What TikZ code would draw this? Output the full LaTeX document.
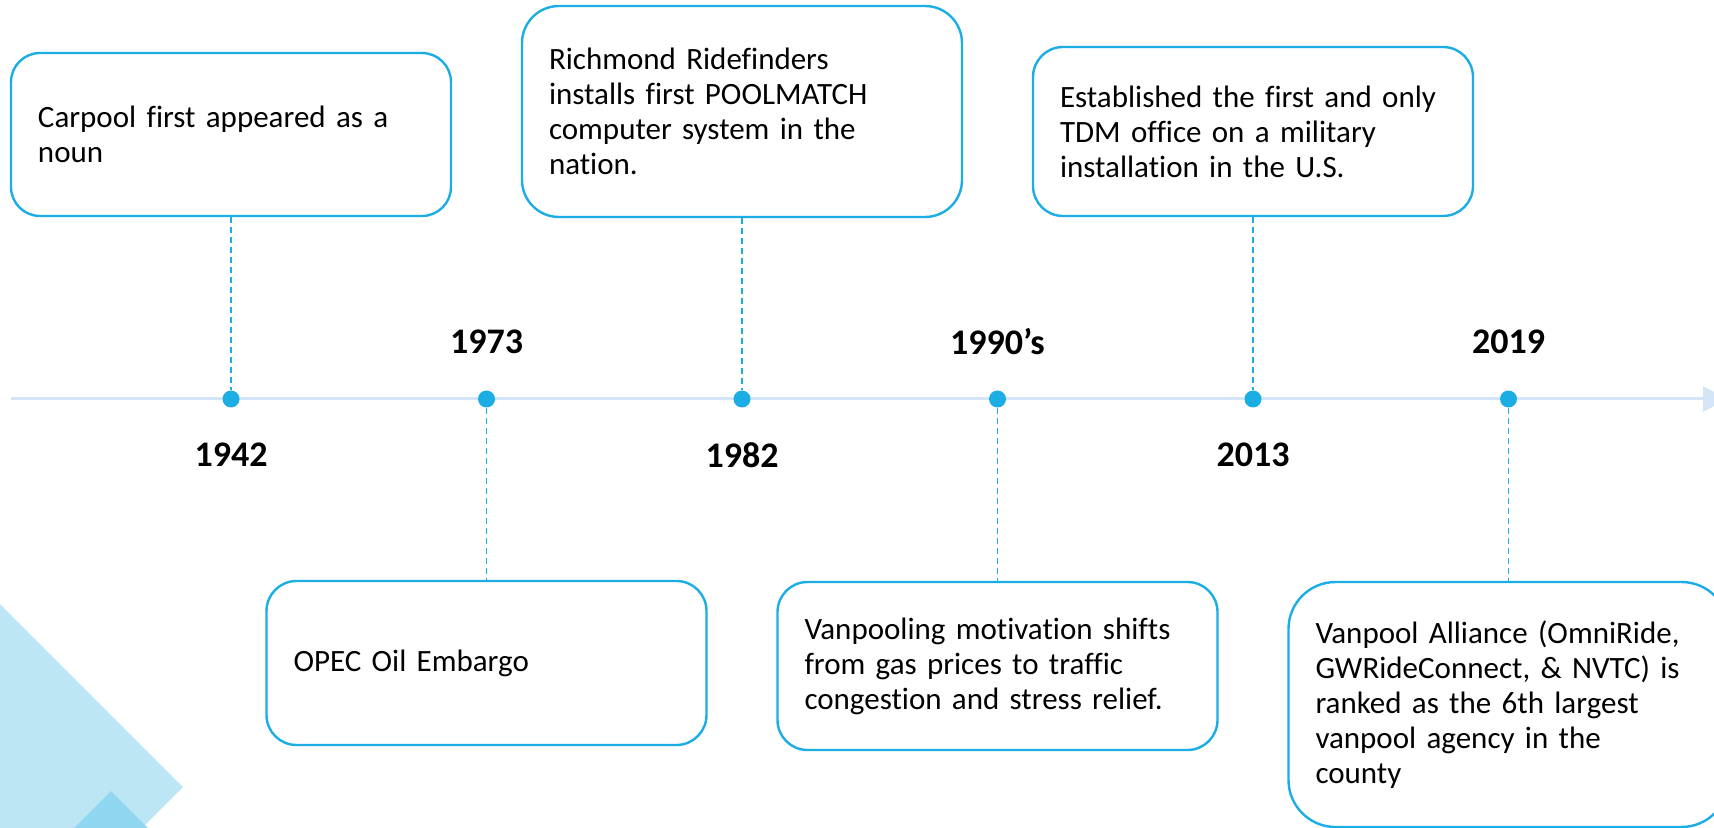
\documentclass[tikz,border=0pt]{standalone}
\usepackage{fontspec}
\setmainfont[Ligatures=NoCommon]{Carlito}
\usepackage{tikz}
\usetikzlibrary{arrows.meta}

\definecolor{evblue}{HTML}{1CADE4}
\definecolor{axisblue}{HTML}{D3E5F6}
\definecolor{decolight}{HTML}{BDE6F5}
\definecolor{decodark}{HTML}{8FD6F0}

\tikzset{
  eventbox/.style={draw=evblue, line width=1.2pt, fill=white, rounded corners=15pt,
    minimum width=220pt, text width=193pt, inner xsep=13.5pt, inner ysep=0pt, align=left,
    font=\fontsize{15.5}{17.5}\selectfont},
  yeardot/.style={circle, fill=evblue, inner sep=0pt, minimum size=8.5pt},
  yearlabel/.style={inner sep=0pt, font=\fontsize{18}{21}\selectfont\bfseries},
  leader/.style={draw=evblue, line width=0.7pt, dash pattern=on 3pt off 2pt},
  timeline/.style={draw=axisblue, line width=1.5pt, -{Triangle[length=12.5pt,width=12.5pt]}}
}

\begin{document}
\begin{tikzpicture}[x=0.5pt, y=-0.5pt]
  \useasboundingbox (0,0) rectangle (1714,828);
  \clip (0,0) rectangle (1714,828);

  \fill[decolight] (183,787) -- (-400,204) -- (-400,1370) -- cycle;
  \fill[decodark] (111,791) -- (211,891) -- (11,891) -- cycle;

  \coordinate (axisstart) at (11,399);
  \coordinate (axisend) at (1728,399);
  \draw[timeline] (axisstart) -- (axisend);

  \node[yeardot] (d1942) at (231,399) {};
  \node[yeardot] (d1973) at (486.5,399) {};
  \node[yeardot] (d1982) at (742,399) {};
  \node[yeardot] (d1990) at (997.5,399) {};
  \node[yeardot] (d2013) at (1253,399) {};
  \node[yeardot] (d2019) at (1508.5,399) {};

  \node[yearlabel] (y1942) at (231,455) {1942};
  \node[yearlabel] (y1973) at (486.5,341.5) {1973};
  \node[yearlabel] (y1982) at (742,455) {1982};
  \node[yearlabel] (y1990) at (997.5,341.5) {1990’s};
  \node[yearlabel] (y2013) at (1253,455) {2013};
  \node[yearlabel] (y2019) at (1508.5,341.5) {2019};

  \node[eventbox, minimum height=81.5pt, rounded corners=14.5pt] (b1942) at (231,134.5)
    {Carpool first appeared as a\\noun};
  \node[eventbox, minimum height=105.5pt, rounded corners=18.5pt] (b1982) at (742,111.5)
    {Richmond Ridefinders\\installs first POOLMATCH\\computer system in the\\nation.};
  \node[eventbox, minimum height=84.5pt] (b2013) at (1253,131.5)
    {Established the first and only\\TDM office on a military\\installation in the U.S.};
  \node[eventbox, minimum height=82pt] (b1973) at (486.5,663)
    {OPEC Oil Embargo};
  \node[eventbox, minimum height=84pt] (b1990) at (997.5,666)
    {Vanpooling motivation shifts\\from gas prices to traffic\\congestion and stress relief.};
  \node[eventbox, minimum height=122.5pt, rounded corners=23.5pt] (b2019) at (1508.5,704.5)
    {Vanpool Alliance (OmniRide,\\GWRideConnect, \& NVTC) is\\ranked as the 6th largest\\vanpool agency in the\\county};

  \draw[leader] (b1942.south) -- (d1942);
  \draw[leader] (b1982.south) -- (d1982);
  \draw[leader] (b2013.south) -- (d2013);
  \draw[leader] (d1973) -- (b1973.north);
  \draw[leader] (d1990) -- (b1990.north);
  \draw[leader] (d2019) -- (b2019.north);
\end{tikzpicture}
\end{document}
